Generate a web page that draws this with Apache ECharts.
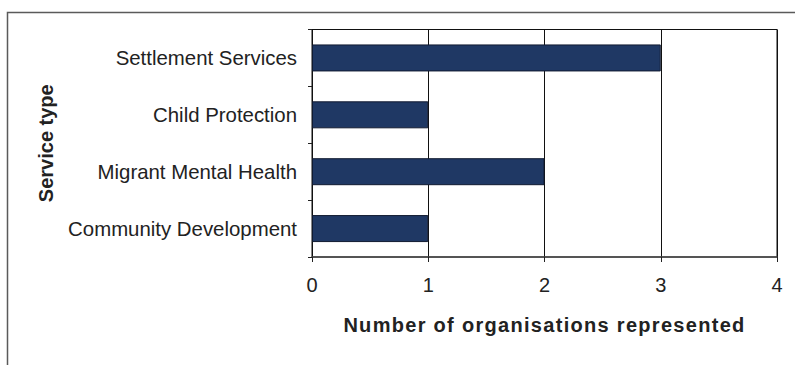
<!DOCTYPE html>
<html>
<head>
<meta charset="utf-8">
<script src="https://cdn.jsdelivr.net/npm/echarts@6/dist/echarts.min.js"></script>
<style>
  html, body { margin: 0; padding: 0; background: #fff; }
  #chart { width: 795px; height: 365px; }
  /* spaced-out lettering for the value axis title */
  #chart svg text[style*="Liberation Sans"] { letter-spacing: 1.3px; }
</style>
</head>
<body>
<div id="chart"></div>
<script>
// Service types, listed top to bottom
const serviceTypes = ['Settlement Services', 'Child Protection', 'Migrant Mental Health', 'Community Development'];
// Number of organisations represented for each service type
const orgCounts = [3, 1, 2, 1];
// Value axis range
const axisMin = 0;
const axisMax = 4;
const axisStep = 1;

const chart = echarts.init(document.getElementById('chart'), null, { renderer: 'svg' });

chart.setOption({
  animation: false,
  backgroundColor: '#ffffff',
  graphic: [{
    type: 'rect',
    left: 5, top: 10,
    shape: { width: 800, height: 370 },
    style: { fill: 'none', stroke: '#5a5a5a', lineWidth: 1.5 },
    silent: true
  }],
  grid: {
    left: 312, right: 18, top: 29.5, bottom: 108,
    show: true, borderColor: '#111', borderWidth: 1,
    containLabel: false
  },
  xAxis: {
    type: 'value',
    min: axisMin, max: axisMax, interval: axisStep,
    name: 'Number of organisations represented',
    nameLocation: 'middle',
    nameGap: 58,
    nameTextStyle: { fontFamily: 'Liberation Sans', fontWeight: 'bold', fontSize: 20, color: '#222' },
    axisLine: { show: true, lineStyle: { color: '#444', width: 1.5 } },
    axisTick: { show: true, length: 5, lineStyle: { color: '#222' } },
    axisLabel: { margin: 18, fontFamily: 'Arial', fontSize: 20, color: '#222' },
    splitLine: { show: true, lineStyle: { color: '#111', width: 1 } }
  },
  yAxis: {
    type: 'category',
    inverse: true,
    data: serviceTypes,
    name: 'Service type',
    nameLocation: 'middle',
    nameGap: 256,
    nameTextStyle: { fontFamily: 'Arial', fontWeight: 'bold', fontSize: 20, color: '#222' },
    axisLine: { show: true, lineStyle: { color: '#111', width: 1 } },
    axisTick: { show: true, length: 4, alignWithLabel: false, lineStyle: { color: '#222' } },
    axisLabel: { margin: 15, fontFamily: 'Arial', fontSize: 20.4, color: '#222' },
    splitLine: { show: false }
  },
  series: [{
    type: 'bar',
    data: orgCounts,
    barWidth: 27,
    itemStyle: { color: '#1f3864', borderColor: '#101a30', borderWidth: 1 }
  }]
});
</script>
</body>
</html>
